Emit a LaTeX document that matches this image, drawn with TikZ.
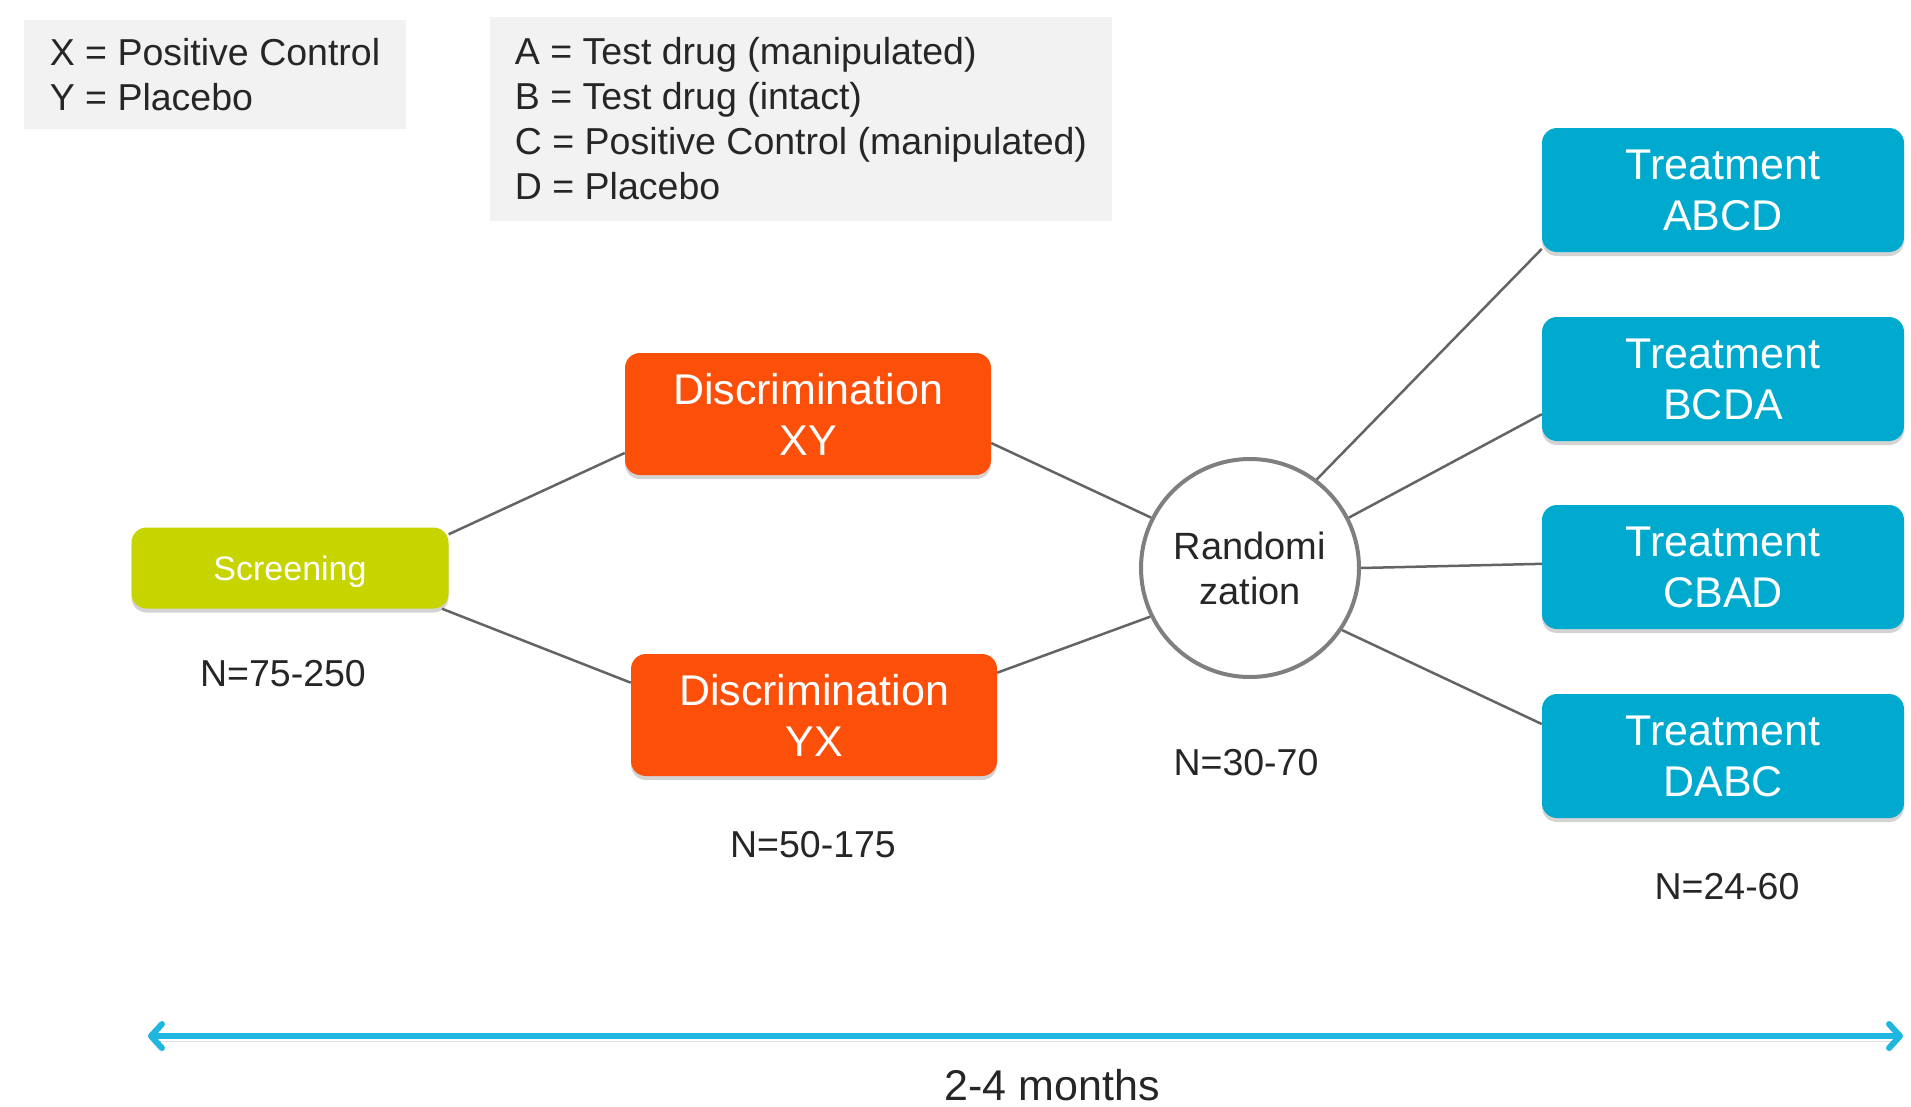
\documentclass[tikz,border=0pt]{standalone}
\usepackage{fontspec}
\setmainfont{Liberation Sans}
\usepackage{tikz}
\usepackage{xcolor}
\usetikzlibrary{positioning,arrows.meta,shadows}

\definecolor{discorange}{HTML}{FC500A}
\definecolor{treatblue}{HTML}{00AACE}
\definecolor{screengreen}{HTML}{C8D400}
\definecolor{timecyan}{HTML}{1FB6DF}
\definecolor{legendgray}{HTML}{F2F2F2}
\definecolor{textgray}{HTML}{262626}
\definecolor{linegray}{HTML}{646464}
\definecolor{ringgray}{HTML}{7F7F7F}

\begin{document}
\begin{tikzpicture}[x=1pt, y=-1pt,
    box/.style={rectangle, rounded corners=15pt, text=white, align=center,
        drop shadow={opacity=0.35, shadow xshift=0pt, shadow yshift=-4pt}},
    disc/.style={box, fill=discorange, minimum width=366pt, minimum height=122pt,
        font=\fontsize{43}{51}\selectfont},
    treat/.style={box, fill=treatblue, minimum width=362pt, minimum height=124pt,
        font=\fontsize{43}{51}\selectfont},
    legend/.style={rectangle, fill=legendgray, align=left, text=textgray,
        font=\fontsize{37.5}{45}\selectfont},
    count/.style={text=textgray, font=\fontsize{37.5}{45}\selectfont},
    link/.style={color=linegray, line width=2.5pt}]
    \useasboundingbox (0,0) rectangle (1911,1106);

    % legends
    \node[legend, minimum width=382pt, minimum height=109pt] (legxy) at (215,74.5)
        {X = Positive Control\\Y = Placebo};
    \node[legend, minimum width=622pt, minimum height=204pt] (legabcd) at (801,119)
        {A = Test drug (manipulated)\\B = Test drug (intact)\\C = Positive Control (manipulated)\\D = Placebo};

    % stages
    \node[box, fill=screengreen, minimum width=317pt, minimum height=81pt, text depth=0pt,
        font=\fontsize{34}{40}\selectfont] (scr) at (290,568) {Screening};
    \node[disc] (dxy) at (808,414) {Discrimination\\XY};
    \node[disc] (dyx) at (814,715) {Discrimination\\YX};
    \node[circle, draw=ringgray, fill=white, line width=4pt, minimum size=218pt,
        align=center, text=textgray, font=\fontsize{38}{45}\selectfont] (rand) at (1250,568) {Randomi\\zation};
    \node[treat] (tabcd) at (1723,190) {Treatment\\ABCD};
    \node[treat] (tbcda) at (1723,379) {Treatment\\BCDA};
    \node[treat] (tcbad) at (1723,567) {Treatment\\CBAD};
    \node[treat] (tdabc) at (1723,756) {Treatment\\DABC};

    % sample sizes
    \node[count] (nscr) at (283,674) {N=75-250};
    \node[count] (ndisc) at (813,845) {N=50-175};
    \node[count] (nrand) at (1246,763) {N=30-70};
    \node[count] (ntreat) at (1727,887) {N=24-60};

    \path[link]
        (scr.12) edge (dxy.192)
        (scr.-15) edge (dyx.170.5)
        (dxy.-9.5) edge (rand.153.4)
        (dyx.13.9) edge (rand.206.6)
        (rand.53) edge (tabcd.198)
        (rand.27.6) edge (tbcda.191)
        (rand.0) edge (tcbad.179)
        (rand.-34.5) edge (tdabc.170);

    % time line
    \coordinate (tstart) at (148,1036);
    \coordinate (tend) at (1903,1036);
    \draw[timecyan, line width=6pt,
        {Straight Barb[length=11pt,width=24pt,round]}-{Straight Barb[length=11pt,width=24pt,round]},
        preaction={draw=black, opacity=0.12, transform canvas={yshift=-5pt}}]
        (tstart) -- (tend);
    \node[text=textgray, font=\fontsize{43}{51}\selectfont] (tlabel) at (1052,1085) {2-4 months};
\end{tikzpicture}
\end{document}
